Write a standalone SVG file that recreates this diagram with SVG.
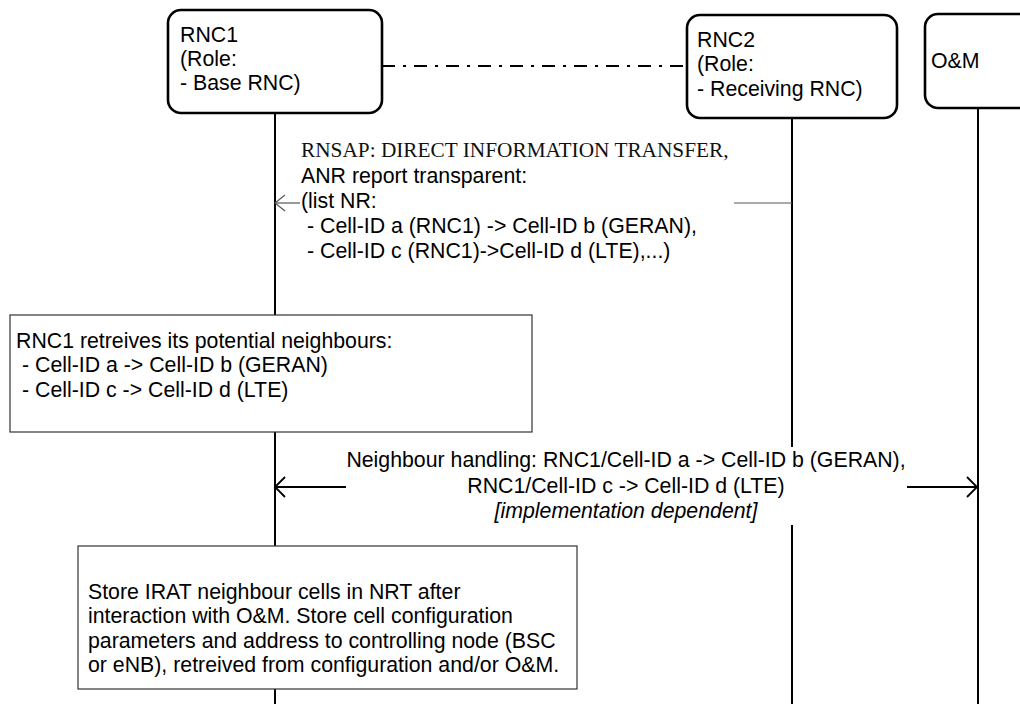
<svg xmlns="http://www.w3.org/2000/svg" width="1020" height="704" viewBox="0 0 1020 704">
<defs>
<style>
.t{font-family:"Liberation Sans",Arial,sans-serif;font-size:21.3px;fill:#000}
.tm{font-family:"Liberation Serif","Times New Roman",serif;font-size:21.3px;fill:#111}
.node{fill:#fff;stroke:#000;stroke-width:2.6}
.box{fill:#fff;stroke:#333;stroke-width:1.2}
.life{stroke:#000;stroke-width:2;fill:none}
.m1{stroke:#555;stroke-width:1.2;fill:none}
.m2{stroke:#000;stroke-width:1.8;fill:none}
</style>
</defs>
<rect width="1020" height="704" fill="#fff"/>
<g id="lifelines">
<line class="life" x1="275" y1="113" x2="275" y2="704"/>
<line class="life" x1="792" y1="118" x2="792" y2="447"/>
<line class="life" x1="792" y1="525" x2="792" y2="704"/>
<line class="life" x1="978" y1="108" x2="978" y2="704"/>
</g>
<g id="connectors">
<line x1="382" y1="66" x2="687" y2="66" stroke="#000" stroke-width="1.8" stroke-dasharray="13 8 3 8"/>
<line class="m1" x1="275" y1="203" x2="300" y2="203"/>
<polyline class="m1" points="285,195 275,203 285,211"/>
<line class="m1" x1="734" y1="203" x2="792" y2="203"/>
<line class="m2" x1="275" y1="487" x2="346" y2="487"/>
<polyline class="m2" points="285,477 275,487 285,497"/>
<line class="m2" x1="907" y1="487" x2="977" y2="487"/>
<polyline class="m2" points="967,477 977,487 967,497"/>
</g>
<g id="rnc1">
<rect class="node" x="168" y="10" width="214" height="103" rx="13"/>
<text class="t" x="180" y="42">RNC1</text>
<text class="t" x="180" y="66">(Role:</text>
<text class="t" x="180" y="90">- Base RNC)</text>
</g>
<g id="rnc2">
<rect class="node" x="687" y="15" width="210" height="103" rx="13"/>
<text class="t" x="697" y="47">RNC2</text>
<text class="t" x="697" y="71">(Role:</text>
<text class="t" x="697" y="96">- Receiving RNC)</text>
</g>
<g id="om">
<rect class="node" x="925" y="14" width="120" height="94" rx="13"/>
<text class="t" x="931" y="68">O&amp;M</text>
</g>
<g id="msg1-label">
<text class="tm" x="301" y="157">RNSAP: DIRECT INFORMATION TRANSFER,</text>
<text class="t" x="301" y="183">ANR report transparent:</text>
<text class="t" x="301" y="208">(list NR:</text>
<text class="t" x="307" y="233">- Cell-ID a (RNC1) -&gt; Cell-ID b (GERAN),</text>
<text class="t" x="307" y="258">- Cell-ID c (RNC1)-&gt;Cell-ID d (LTE),...)</text>
</g>
<g id="retrieve">
<rect class="box" x="10" y="315" width="522" height="117"/>
<text class="t" x="16" y="348">RNC1 retreives its potential neighbours:</text>
<text class="t" x="22" y="372">- Cell-ID a -&gt; Cell-ID b (GERAN)</text>
<text class="t" x="22" y="397">- Cell-ID c -&gt; Cell-ID d (LTE)</text>
</g>
<g id="msg2-label">
<text class="t" x="626" y="467" text-anchor="middle">Neighbour handling: RNC1/Cell-ID a -&gt; Cell-ID b (GERAN),</text>
<text class="t" x="626" y="493" text-anchor="middle">RNC1/Cell-ID c -&gt; Cell-ID d (LTE)</text>
<text class="t" x="626" y="518" text-anchor="middle" font-style="italic">[implementation dependent]</text>
</g>
<g id="store">
<rect class="box" x="78" y="546" width="499" height="143"/>
<text class="t" x="88" y="599">Store IRAT neighbour cells in NRT after</text>
<text class="t" x="88" y="623">interaction with O&amp;M. Store cell configuration</text>
<text class="t" x="88" y="648">parameters and address to controlling node (BSC</text>
<text class="t" x="88" y="672">or eNB), retreived from configuration and/or O&amp;M.</text>
</g>
</svg>
